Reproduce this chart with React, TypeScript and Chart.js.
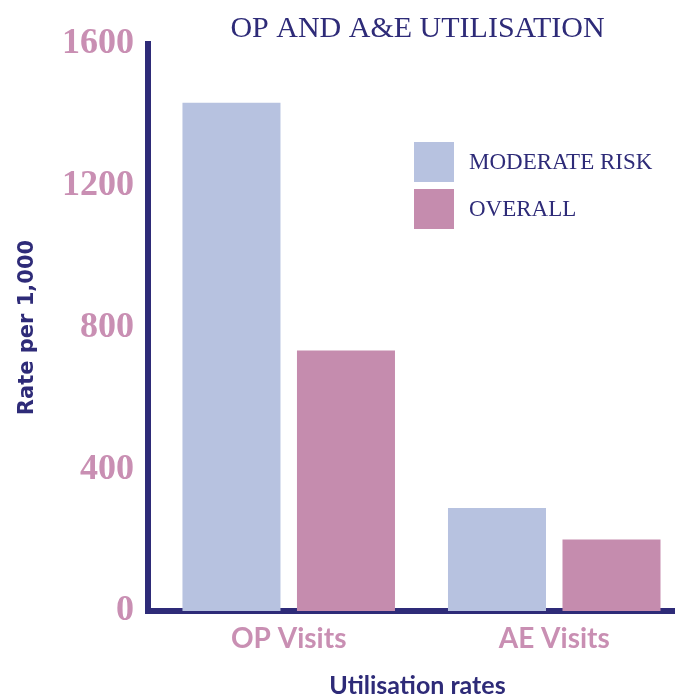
import React, { useEffect, useRef } from "react";
import { Chart, registerables } from "chart.js";

Chart.register(...registerables);

const categories = ["OP Visits", "AE Visits"];
const moderateRisk = [1434, 291];
const overall = [735, 202];
const yTicks = [0, 400, 800, 1200, 1600];
const seriesLabels = ["MODERATE RISK", "OVERALL"];

const NAVY = "#2E2B78";
const PINK_TEXT = "#C98FB3";
const BLUE_BAR = "#B7C2E0";
const PINK_BAR = "#C58CAE";
const seriesColors = [BLUE_BAR, PINK_BAR];

export default function App() {
  const canvasRef = useRef<HTMLCanvasElement | null>(null);

  useEffect(() => {
    document.body.style.margin = "0";
    const canvas = canvasRef.current;
    if (!canvas) return;
    const chart = new Chart(canvas, {
      type: "bar",
      data: {
        datasets: [
          {
            label: seriesLabels[0],
            data: moderateRisk.map((v, i) => ({ x: i, y: v })),
            backgroundColor: seriesColors[0],
            borderWidth: 0,
          },
          {
            label: seriesLabels[1],
            data: overall.map((v, i) => ({ x: i, y: v })),
            backgroundColor: seriesColors[1],
            borderWidth: 0,
          },
        ],
      },
      options: {
        responsive: false,
        animation: false,
        events: [],
        categoryPercentage: 0.8625,
        barPercentage: 0.856,
        layout: { padding: { left: 0, right: 3, top: 0, bottom: 0 } },
        plugins: {
          legend: { display: false },
          tooltip: { enabled: false },
          title: {
            display: true,
            text: "OP AND A&E UTILISATION",
            color: NAVY,
            fullSize: false,
            font: { family: "'Liberation Serif', serif", size: 30, weight: "normal", lineHeight: 1 },
            padding: { top: 14, bottom: 0 },
          },
        },
        scales: {
          x: {
            type: "linear",
            position: "bottom",
            min: -0.53,
            max: 1.5,
            offset: false,
            afterBuildTicks: (scale: any) => {
              scale.ticks = categories.map((_, i) => ({ value: i }));
            },
            afterFit: (scale: any) => {
              scale.height = 87;
            },
            grid: { display: false, drawTicks: false },
            border: { display: true, color: NAVY, width: 6 },
            ticks: {
              autoSkip: false,
              maxRotation: 0,
              padding: 11,
              color: PINK_TEXT,
              font: { family: "Lato, sans-serif", size: 28, weight: "bold" },
              callback: (v: any) => categories[Number(v)] ?? "",
            },
            title: {
              display: true,
              text: "Utilisation rates",
              color: NAVY,
              font: { family: "Lato, sans-serif", size: 25, weight: "bold", lineHeight: 1 },
              padding: { top: 0, bottom: 0 },
            },
          },
          y: {
            min: 0,
            max: 1600,
            afterBuildTicks: (scale: any) => {
              scale.ticks = yTicks.map((v) => ({ value: v }));
            },
            afterFit: (scale: any) => {
              scale.width = 148;
            },
            grid: { display: false, drawTicks: false },
            border: { display: true, color: NAVY, width: 6 },
            ticks: {
              padding: 14,
              color: PINK_TEXT,
              font: { family: "'Liberation Serif', serif", size: 36, weight: "bold" },
              callback: (v: any) => String(v),
            },
            title: {
              display: true,
              text: "Rate per 1,000",
              color: NAVY,
              font: { family: "'DejaVu Sans', sans-serif", size: 21, weight: "bold" },
              padding: { top: 15, bottom: 0 },
            },
          },
        },
      },
    });
    return () => chart.destroy();
  }, []);

  return (
    <div style={{ position: "relative", width: 675, height: 698, overflow: "hidden" }}>
      <canvas ref={canvasRef} width={690} height={698} style={{ display: "block" }} />
      <div style={{ position: "absolute", left: 414, top: 142 }}>
        {seriesLabels.map((label, i) => (
          <div key={label} style={{ display: "flex", alignItems: "center", height: 40, marginBottom: 7 }}>
            <div style={{ width: 40, height: 40, background: seriesColors[i] }} />
            <span
              style={{
                marginLeft: 15,
                fontFamily: "'Liberation Serif', serif",
                fontSize: 23,
                color: NAVY,
                lineHeight: "40px",
                whiteSpace: "nowrap",
              }}
            >
              {label}
            </span>
          </div>
        ))}
      </div>
    </div>
  );
}
